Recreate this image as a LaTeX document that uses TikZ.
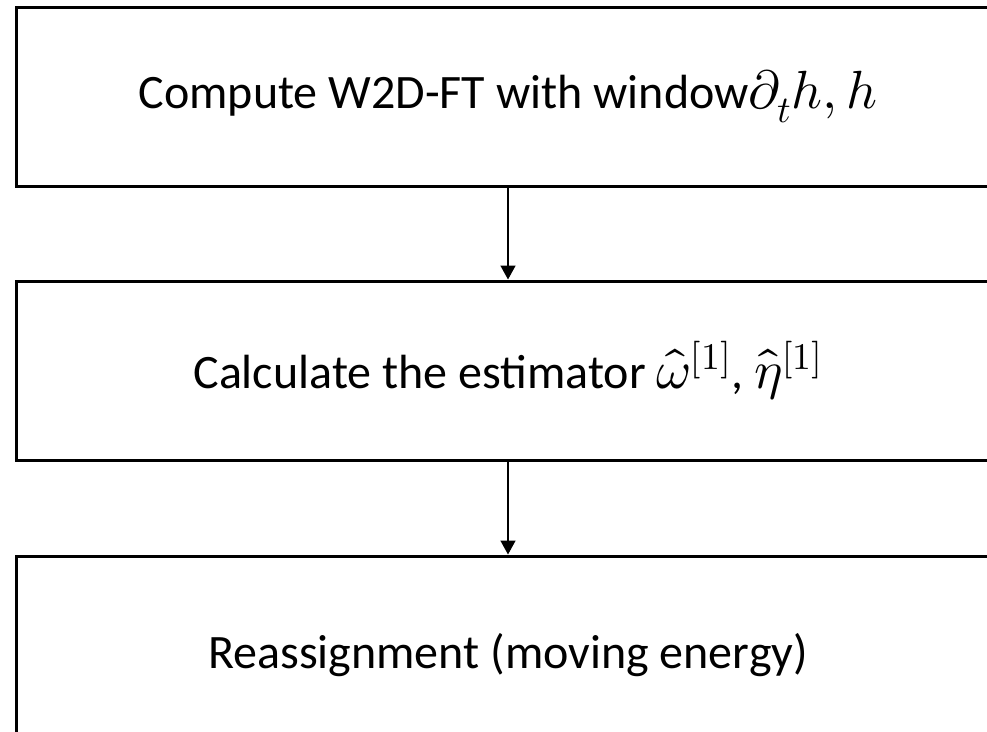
\documentclass[tikz,border=0pt]{standalone}
\usepackage{fontspec}
\usepackage{unicode-math}
\setmainfont{Carlito}
\setmathfont{Latin Modern Math}[Scale=1.12]
\usetikzlibrary{arrows.meta}
\tikzset{
  flowbox/.style={draw=black, line width=3pt, minimum width=984pt, minimum height=179pt, inner sep=0pt, font=\fontsize{48}{58}\selectfont},
  flowarrow/.style={line width=1.6pt, -{Triangle[width=15pt,length=14pt]}}
}
\begin{document}
\begin{tikzpicture}[x=1pt,y=-1pt]
\useasboundingbox (0,0) rectangle (987,731);
\clip (0,0) rectangle (987,731);
\node[flowbox] (b1) at (508,96.5) {Compute W2D-FT with window$\partial_t h, h$};
\node[flowbox] (b2) at (508,370.5) {Calculate the estimator $\widehat{\omega}^{[1]}$, $\hat{\eta}^{[1]}$};
\node[flowbox, minimum height=199pt] (b3) at (508,655.5) {Reassignment (moving energy)};
\draw[flowarrow] (b1.south) -- (b2.north);
\draw[flowarrow] (b2.south) -- (b3.north);
\end{tikzpicture}
\end{document}
